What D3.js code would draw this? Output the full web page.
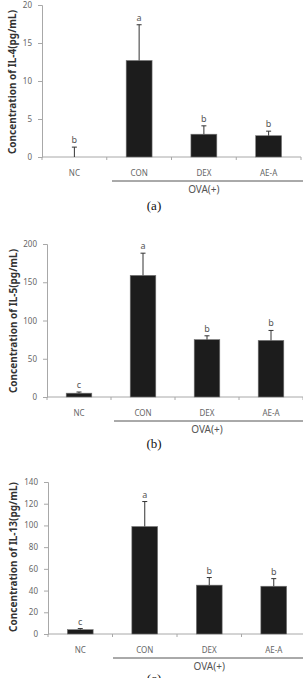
<!DOCTYPE html>
<html>
<head>
<meta charset="utf-8">
<script src="https://cdn.jsdelivr.net/npm/d3@7"></script>
<style>
  body { margin: 0; background: #fff; }
  svg { display: block; }
</style>
</head>
<body>
<div id="chart"></div>
<script>
// size of the whole picture
const width = 303;
const height = 678;

// shared categories
const categories = ["NC", "CON", "DEX", "AE-A"];

// IL-4 panel
const il4Mean = [0, 12.7, 3.0, 2.8];
const il4Upper = [1.3, 17.4, 4.1, 3.4];
const il4Letters = ["b", "a", "b", "b"];
const il4Ticks = [0, 5, 10, 15, 20];

// IL-5 panel
const il5Mean = [5, 159, 75, 74];
const il5Upper = [6.5, 188, 80, 87];
const il5Letters = ["c", "a", "b", "b"];
const il5Ticks = [0, 50, 100, 150, 200];

// IL-13 panel
const il13Mean = [4, 99, 45, 44];
const il13Upper = [5, 122, 52, 51];
const il13Letters = ["c", "a", "b", "b"];
const il13Ticks = [0, 20, 40, 60, 80, 100, 120, 140];

const svg = d3.select("#chart")
  .append("svg")
  .attr("width", width)
  .attr("height", height);

const font = "'Noto Sans', 'Open Sans', sans-serif";

// draws one panel, layout values are passed in p
function drawPanel(p) {
  const g = svg.append("g");

  let y = d3.scaleLinear()
    .domain([0, d3.max(p.ticks)])
    .range([p.y0, p.y1]);

  let x = d3.scaleBand()
    .domain(categories)
    .range([p.x0, p.x1])
    .paddingInner(0.6)
    .paddingOuter(0.3);

  // y axis
  const yAxis = g.append("g")
    .attr("transform", `translate(${p.x0},0)`)
    .call(d3.axisLeft(y).tickValues(p.ticks).tickSize(4).tickPadding(6));
  yAxis.selectAll("line, path").attr("stroke", "#a8a8a8");
  yAxis.selectAll("text").attr("fill", "#666").attr("font-size", "8px").attr("font-family", font);

  // x axis with ticks at the band edges
  const edges = d3.range(categories.length + 1).map(i => p.x0 + i * x.step());
  g.append("line")
    .attr("x1", p.x0).attr("x2", p.x1)
    .attr("y1", p.y0).attr("y2", p.y0)
    .attr("stroke", "#a8a8a8");
  g.selectAll(".xt")
    .data(edges)
    .enter()
    .append("line")
      .attr("x1", d => d).attr("x2", d => d)
      .attr("y1", p.y0).attr("y2", p.y0 + 3)
      .attr("stroke", "#a8a8a8");

  g.selectAll(".xl")
    .data(categories)
    .enter()
    .append("text")
      .attr("x", d => x(d) + x.bandwidth() / 2)
      .attr("y", p.y0 + 19)
      .attr("text-anchor", "middle")
      .attr("font-size", "8px")
      .attr("font-family", font)
      .attr("fill", "#666")
      .text(d => d);

  // bars
  g.selectAll(".bar")
    .data(p.mean)
    .enter()
    .append("rect")
      .attr("x", (d, i) => x(categories[i]))
      .attr("y", d => y(d))
      .attr("width", x.bandwidth())
      .attr("height", d => p.y0 - y(d))
      .attr("fill", "#1c1c1c")
      .attr("stroke", "#777")
      .attr("stroke-width", 0.6);

  // upper error bars
  g.selectAll(".err")
    .data(p.upper)
    .enter()
    .append("path")
      .attr("d", (d, i) => {
        const cx = x(categories[i]) + x.bandwidth() / 2;
        return `M${cx},${y(p.mean[i])}V${y(d)}M${cx - 2.5},${y(d)}H${cx + 2.5}`;
      })
      .attr("stroke", "#333")
      .attr("stroke-width", 1)
      .attr("fill", "none");

  // significance letters
  g.selectAll(".let")
    .data(p.letters)
    .enter()
    .append("text")
      .attr("x", (d, i) => x(categories[i]) + x.bandwidth() / 2)
      .attr("y", (d, i) => y(p.upper[i]) - 4)
      .attr("text-anchor", "middle")
      .attr("font-size", "9px")
      .attr("font-family", font)
      .attr("fill", "#555")
      .text(d => d);

  // OVA(+) bracket
  g.append("line")
    .attr("x1", p.lineX).attr("x2", width)
    .attr("y1", p.y0 + 24).attr("y2", p.y0 + 24)
    .attr("stroke", "#555");
  g.append("text")
    .attr("x", x("DEX") + x.bandwidth() / 2)
    .attr("y", p.y0 + 36)
    .attr("text-anchor", "middle")
    .attr("font-size", "10px")
    .attr("font-family", font)
    .attr("fill", "#555")
    .text("OVA(+)");

  // y title
  g.append("text")
    .attr("transform", `translate(${p.titleX},${p.titleY}) rotate(-90)`)
    .attr("text-anchor", "middle")
    .attr("font-size", "10px")
    .attr("font-weight", "bold")
    .attr("font-family", font)
    .attr("fill", "#333")
    .text(p.title);

  // panel label
  g.append("text")
    .attr("x", 154)
    .attr("y", p.labelY)
    .attr("text-anchor", "middle")
    .attr("font-size", "13px")
    .attr("font-family", "'Liberation Serif', serif")
    .attr("fill", "#111")
    .text(p.label);
}

drawPanel({mean: il4Mean, upper: il4Upper, letters: il4Letters, ticks: il4Ticks,
  x0: 42, x1: 301, y0: 157, y1: 5, lineX: 112, titleX: 16, titleY: 82,
  title: "Concentration of IL-4(pg/mL)", label: "(a)", labelY: 210});

drawPanel({mean: il5Mean, upper: il5Upper, letters: il5Letters, ticks: il5Ticks,
  x0: 47, x1: 303, y0: 397, y1: 244, lineX: 114, titleX: 17, titleY: 321,
  title: "Concentration of IL-5(pg/mL)", label: "(b)", labelY: 448});

drawPanel({mean: il13Mean, upper: il13Upper, letters: il13Letters, ticks: il13Ticks,
  x0: 48, x1: 306, y0: 634, y1: 482, lineX: 113, titleX: 17, titleY: 557,
  title: "Concentration of IL-13(pg/mL)", label: "(c)", labelY: 683});
</script>
</body>
</html>
